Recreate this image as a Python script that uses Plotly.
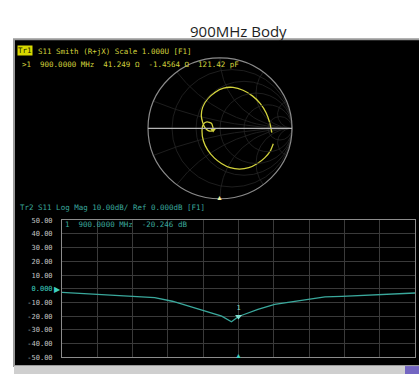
import numpy as np
import plotly.graph_objects as go

W, H = 419, 374

# ---- S11 log magnitude sweep (700 MHz .. 1.1 GHz) ----
freq_mhz = [700, 729, 768, 805, 825, 843, 862, 881, 892, 900, 907, 922, 941,
            961, 979, 998, 1017, 1035, 1055, 1081, 1100]
s11_db = [-2.6, -3.6, -4.8, -6.4, -9.1, -12.6, -16.2, -20.0, -24.1, -20.247,
          -18.6, -15.0, -11.4, -9.3, -7.9, -5.9, -5.5, -5.0, -4.3, -3.6, -3.1]

# ---- S11 reflection coefficient locus for the Smith chart ----
smith_freq = [700, 710, 725, 740, 755, 770, 785, 800, 815, 830, 845, 860, 872,
              882, 890, 896, 900, 905, 910, 916, 922, 932, 945, 960, 975, 990,
              1005, 1020, 1035, 1050, 1065, 1080, 1100]
gamma_re = [0.74, 0.70, 0.62, 0.52, 0.40, 0.27, 0.14, 0.02, -0.08, -0.17, -0.23,
            -0.25, -0.23, -0.18, -0.12, -0.10, -0.096, -0.12, -0.17, -0.21, -0.24,
            -0.26, -0.24, -0.17, -0.07, 0.05, 0.18, 0.32, 0.45, 0.56, 0.64, 0.69, 0.72]
gamma_im = [-0.22, -0.32, -0.42, -0.50, -0.56, -0.58, -0.56, -0.50, -0.42, -0.31,
            -0.18, -0.04, 0.06, 0.09, 0.07, 0.02, -0.017, -0.04, -0.03, 0.01, 0.08,
            0.18, 0.30, 0.42, 0.51, 0.57, 0.58, 0.54, 0.46, 0.35, 0.22, 0.08, -0.06]

# ---- marker 1 readout ----
marker_freq = 900.0
marker_r_ohm = 41.249
marker_x_ohm = -1.4564
z0 = 50.0

# ---- log-mag axis labels ----
db_ticks = [50, 40, 30, 20, 10, 0, -10, -20, -30, -40, -50]
db_labels = ["50.00", "40.00", "30.00", "20.00", "10.00",
             '<span style="color:#3fd0c0">0.000</span>',
             "-10.00", "-20.00", "-30.00", "-40.00", "-50.00"]

z_m = complex(marker_r_ohm, marker_x_ohm)
g_m = (z_m - z0) / (z_m + z0)
marker_db = 20 * np.log10(abs(g_m))
marker_pf = 1e12 / (2 * np.pi * marker_freq * 1e6 * abs(marker_x_ohm))

YEL = "#d2d23c"
CYN = "#3aa89c"
MONO = "DejaVu Sans Mono"
SMITH_GRID = "#262626"


def px(x):
    return x / W


def py(y):
    return 1 - y / H


fig = go.Figure()

# Smith chart grid: constant-reactance arcs
for xv in [0.2, 0.5, 1.0, 2.0, 5.0]:
    for sgn in (1, -1):
        r = np.concatenate([np.linspace(0, 1, 60), np.linspace(1, 60, 120)])
        z = r + 1j * sgn * xv
        g = (z - 1) / (z + 1)
        fig.add_trace(go.Scatter(x=g.real, y=g.imag, mode="lines",
                                 line=dict(color=SMITH_GRID, width=0.8),
                                 xaxis="x2", yaxis="y2", hoverinfo="skip",
                                 showlegend=False))

# Smith trace
fig.add_trace(go.Scatter(x=gamma_re, y=gamma_im, mode="lines",
                         line=dict(color=YEL, width=1.3, shape="spline", smoothing=0.6),
                         xaxis="x2", yaxis="y2", showlegend=False, name="S11"))
fig.add_trace(go.Scatter(x=[g_m.real], y=[g_m.imag], mode="markers",
                         marker=dict(symbol="triangle-down", size=6, color=YEL),
                         xaxis="x2", yaxis="y2", showlegend=False))

# Log-mag trace
fig.add_trace(go.Scatter(x=freq_mhz, y=s11_db, mode="lines",
                         line=dict(color=CYN, width=1.3),
                         xaxis="x", yaxis="y", showlegend=False, name="S11 dB"))
fig.add_trace(go.Scatter(x=[marker_freq], y=[marker_db], mode="markers+text",
                         marker=dict(symbol="triangle-down", size=6, color="#7fe0d0"),
                         text=["1"], textposition="top center",
                         textfont=dict(family=MONO, size=7, color="#7fe0d0"),
                         xaxis="x", yaxis="y", showlegend=False, cliponaxis=False))

shapes = [
    # instrument screen
    dict(type="rect", xref="paper", yref="paper", x0=px(14), x1=1.02,
         y0=py(370), y1=py(36), fillcolor="black",
         line=dict(color="#9a9a9a", width=2), layer="below"),
    # status bar
    dict(type="rect", xref="paper", yref="paper", x0=px(14), x1=1.02,
         y0=-0.02, y1=py(370), fillcolor="#cfcfcf", line=dict(width=0), layer="below"),
    dict(type="rect", xref="paper", yref="paper", x0=px(405), x1=1.02,
         y0=-0.02, y1=py(370), fillcolor="#7466c2", line=dict(width=0), layer="below"),
]
# Smith chart grid: constant-resistance circles and outer rim
for rv in [0.2, 0.5, 1.0, 2.0, 5.0]:
    c, rad = rv / (1 + rv), 1 / (1 + rv)
    shapes.append(dict(type="circle", xref="x2", yref="y2", x0=c - rad, x1=c + rad,
                       y0=-rad, y1=rad, line=dict(color=SMITH_GRID, width=0.8)))
shapes.append(dict(type="circle", xref="x2", yref="y2", x0=-1, x1=1, y0=-1, y1=1,
                   line=dict(color="#8a8a8a", width=1.2)))
shapes.append(dict(type="line", xref="x2", yref="y2", x0=-1, x1=1, y0=0, y1=0,
                   line=dict(color="#b4b4b4", width=1.2)))

ann = [
    dict(text="900MHz Body", x=px(238), y=py(15), xref="paper", yref="paper",
         showarrow=False, font=dict(family="Open Sans", size=15, color="#1e1e1e")),
    dict(text="Tr1", x=px(17), y=py(42), xref="paper", yref="paper", xanchor="left",
         showarrow=False, bgcolor="#d8d800", borderpad=0,
         font=dict(family=MONO, size=7.5, color="#202000")),
    dict(text="S11 Smith (R+jX) Scale 1.000U [F1]", x=px(36), y=py(42),
         xref="paper", yref="paper", xanchor="left", showarrow=False,
         font=dict(family=MONO, size=7.5, color=YEL)),
    dict(text=f">1  {marker_freq:.4f} MHz  {marker_r_ohm:.3f} Ω  {marker_x_ohm:.4f} Ω  {marker_pf:.2f} pF",
         x=px(20), y=py(55), xref="paper", yref="paper", xanchor="left",
         showarrow=False, font=dict(family=MONO, size=7.5, color=YEL)),
    dict(text="Tr2 S11 Log Mag 10.00dB/ Ref 0.000dB [F1]", x=px(18), y=py(208),
         xref="paper", yref="paper", xanchor="left", showarrow=False,
         font=dict(family=MONO, size=7.5, color=CYN)),
    dict(text=f"1  {marker_freq:.4f} MHz  {marker_db:.3f} dB", x=px(63), y=py(225),
         xref="paper", yref="paper", xanchor="left", showarrow=False,
         font=dict(family=MONO, size=7.5, color=CYN)),
    # reference level pointer
    dict(text="▶", x=freq_mhz[0], y=0, xref="x", yref="y", xanchor="right",
         xshift=1, showarrow=False, font=dict(size=8, color="#3fd0c0")),
    # stimulus marker pointers
    dict(text="▲", x=marker_freq, y=py(366), xref="x", yref="paper",
         showarrow=False, font=dict(size=7, color="#3fd0c0")),
    dict(text="▲", x=0, y=py(198), xref="x2", yref="paper",
         showarrow=False, font=dict(size=7, color="#eeeea0")),
]

smith_half = 1.05 * 72
fig.update_layout(
    width=W, height=H,
    margin=dict(l=0, r=0, t=0, b=0),
    paper_bgcolor="white",
    plot_bgcolor="rgba(0,0,0,0)",
    showlegend=False,
    shapes=shapes,
    annotations=ann,
    xaxis=dict(domain=[px(62), px(415)], range=[700, 1100], dtick=40, tick0=700,
               showticklabels=False, ticks="", showgrid=True, gridcolor="#3a3a3a",
               gridwidth=1, zeroline=False, showline=True, linecolor="#8c8c8c",
               linewidth=1, mirror=True, anchor="y"),
    yaxis=dict(domain=[py(361), py(221)], range=[-50, 50], tickvals=db_ticks,
               ticktext=db_labels, ticks="outside", ticklen=7,
               tickcolor="rgba(0,0,0,0)", tickfont=dict(family=MONO, size=7, color="#c4c4c4"),
               showgrid=True, gridcolor="#3a3a3a", gridwidth=1, zeroline=False,
               showline=True, linecolor="#8c8c8c", linewidth=1, mirror=True, anchor="x"),
    xaxis2=dict(domain=[px(220 - smith_half), px(220 + smith_half)], range=[-1.05, 1.05],
                visible=False, anchor="y2"),
    yaxis2=dict(domain=[py(127 + smith_half), py(127 - smith_half)], range=[-1.05, 1.05],
                visible=False, anchor="x2"),
)

fig.write_html("out.html")
